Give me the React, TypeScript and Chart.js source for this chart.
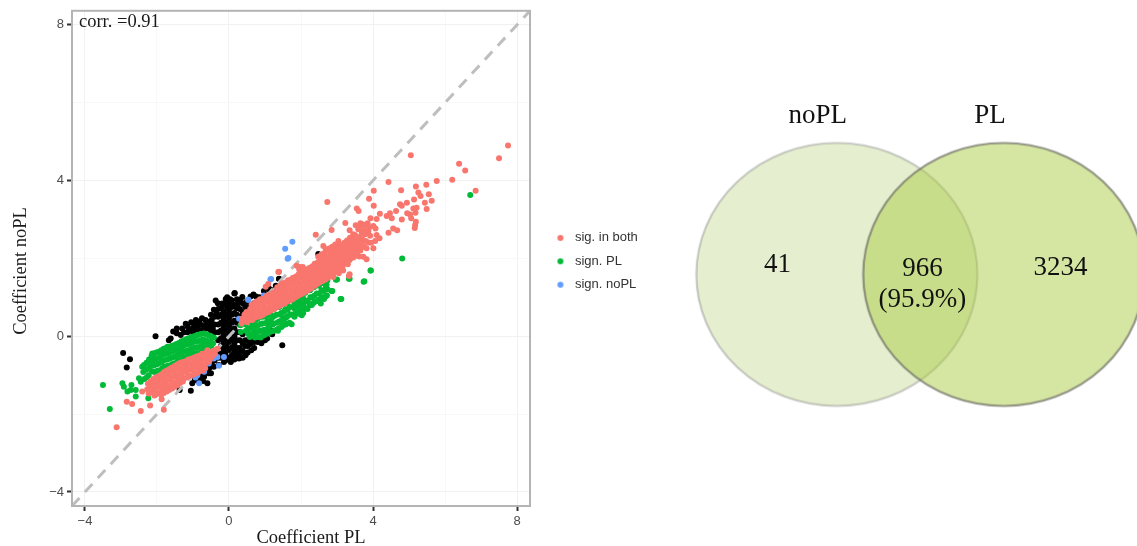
import React, { useEffect, useRef } from "react";
import { Chart, registerables } from "chart.js";

Chart.register(...registerables);

type P = [number, number];

const sigBothSparse: P[] = [
  [7.75,4.9],[7.5,4.57],[6.39,4.43],[6.56,4.26],[5.05,4.65],[6.2,4.02],[5.77,3.99],[4.43,3.96],[5.19,3.85],[5.48,3.89],
  [6.85,3.74],[4.78,3.75],[4.02,3.74],[5.26,3.69],[5.55,3.65],[5.32,3.6],[5.14,3.51],[3.89,3.53],[2.73,3.45],[5.63,3.48],
  [5.44,3.43],[4.94,3.43],[4.75,3.39],[4.02,3.35],[4.8,3.35],[5.21,3.3],[5.12,3.28],[3.55,3.28],[3.6,3.22],[5.49,3.27],
  [4.95,3.16],[5.18,3.17],[4.19,3.15],[4.64,3.22],[4.47,3.16],[5.03,3.13],[4.38,3.09],[4.52,3.03],[4.8,3.0],[5.06,3.03],
  [3.93,3.03],[4.1,3.01],[5.19,2.94],[5.17,2.86],[5.16,2.78],[3.23,2.91],[3.73,2.87],[4.01,2.83],[4.07,2.77],[2.85,2.73],
  [3.35,2.72],[4.56,2.77],[4.67,2.72],[4.43,2.66],[2.41,2.61],[3.59,2.75],[3.87,2.7],[3.69,2.66],[3.78,2.62],[3.92,2.58],
  [4.18,2.52],[4.06,2.45],[3.87,2.41],[4.01,2.26],[3.82,2.26],[3.64,2.34],[3.04,2.45],[3.22,2.41],[3.36,2.53],[2.99,2.32],
  [2.62,2.32],[2.69,2.24],[2.85,2.19],[3.08,2.19],[3.27,2.28],[3.45,2.19],[3.73,2.04],[3.82,1.98],[2.48,2.04],[3.08,2.06],
  [1.37,1.65],[1.88,1.81],[1.97,1.78],[1.39,1.66],[1.09,1.34],[1.02,1.27],[3.35,1.59],[3.17,1.69],[3.33,1.55],
  [-2.69,-1.74],[-2.84,-1.68],[-2.19,-1.78],[-2.45,-1.92],[-1.81,-1.89],[-1.87,-1.62],[-3.12,-2.34],[-2.41,-1.42],[-2.06,-1.51],
  [3.55,2.45],[3.62,2.55],[3.7,2.5],[3.5,2.6],[3.45,2.62],[3.6,2.42],[3.68,2.38],[3.58,2.28],[3.65,2.2],[3.75,2.3],[3.8,2.45],[3.95,2.4],
  [3.72,2.72],[3.8,2.78],[3.9,2.8],[3.62,2.78],[3.52,2.85],[3.65,2.9],[3.85,2.9],[4.1,2.6],[3.55,2.12],[3.62,2.05],[3.45,2.02],[3.3,1.85],[3.15,1.78],[3.05,1.62],[2.9,1.52],
];

const sigBothUpperBand: P[] = [
  [0.35,0.33],[0.37,0.45],[0.5,0.36],[0.51,0.5],[0.49,0.62],[0.65,0.42],[0.66,0.55],[0.64,0.68],[0.63,0.8],[0.8,0.5],[0.81,0.63],[0.79,0.76],[0.78,0.9],
  [0.95,0.55],[0.96,0.68],[0.94,0.82],[0.93,0.96],[1.1,0.62],[1.11,0.76],[1.09,0.9],[1.08,1.04],[1.25,0.7],[1.26,0.84],[1.24,0.98],[1.23,1.12],
  [1.4,0.78],[1.41,0.92],[1.39,1.06],[1.38,1.2],[1.42,1.3],[1.55,0.84],[1.56,0.98],[1.54,1.12],[1.53,1.26],[1.57,1.38],
  [1.7,0.92],[1.71,1.06],[1.69,1.2],[1.68,1.34],[1.72,1.46],[1.85,1.0],[1.86,1.14],[1.84,1.28],[1.83,1.42],[1.87,1.54],
  [2.0,1.08],[2.01,1.22],[1.99,1.36],[1.98,1.5],[2.02,1.62],[1.95,1.72],[2.15,1.16],[2.16,1.3],[2.14,1.44],[2.13,1.58],[2.17,1.72],
  [2.3,1.24],[2.31,1.38],[2.29,1.52],[2.28,1.66],[2.32,1.8],[2.45,1.34],[2.46,1.48],[2.44,1.62],[2.43,1.76],[2.47,1.9],
  [2.6,1.42],[2.61,1.56],[2.59,1.7],[2.58,1.84],[2.62,1.98],[2.57,2.1],[2.75,1.5],[2.76,1.64],[2.74,1.78],[2.73,1.92],[2.77,2.06],[2.72,2.2],
  [2.9,1.62],[2.91,1.76],[2.89,1.9],[2.88,2.04],[2.92,2.18],[2.87,2.3],[3.05,1.72],[3.06,1.86],[3.04,2.0],[3.03,2.14],[3.07,2.3],
  [3.2,1.86],[3.21,2.0],[3.19,2.14],[3.18,2.28],[3.22,2.4],[3.35,1.96],[3.36,2.1],[3.34,2.24],[3.33,2.38],[3.37,2.5],
  [3.5,2.06],[3.51,2.2],[3.49,2.34],[3.48,2.48],
  [0.42,0.42],[0.43,0.55],[0.58,0.42],[0.57,0.56],[0.59,0.7],[0.72,0.48],[0.71,0.62],[0.73,0.76],[0.72,0.86],[0.88,0.52],[0.87,0.66],[0.89,0.8],[0.86,0.95],
  [1.02,0.6],[1.03,0.74],[1.01,0.88],[1.02,1.02],[1.18,0.67],[1.17,0.8],[1.19,0.95],[1.16,1.08],[1.32,0.74],[1.33,0.88],[1.31,1.02],[1.32,1.16],[1.34,1.26],
  [1.48,0.82],[1.47,0.96],[1.49,1.1],[1.46,1.24],[1.48,1.36],[1.62,0.9],[1.63,1.04],[1.61,1.18],[1.62,1.32],[1.64,1.44],
  [1.78,0.96],[1.77,1.1],[1.79,1.24],[1.76,1.38],[1.78,1.5],[1.92,1.04],[1.93,1.18],[1.91,1.32],[1.92,1.46],[1.94,1.6],
  [2.08,1.12],[2.07,1.26],[2.09,1.4],[2.06,1.54],[2.08,1.68],[2.05,1.78],[2.22,1.2],[2.23,1.34],[2.21,1.48],[2.22,1.62],[2.24,1.76],
  [2.38,1.3],[2.37,1.44],[2.39,1.58],[2.36,1.72],[2.38,1.86],[2.52,1.38],[2.53,1.52],[2.51,1.66],[2.52,1.8],[2.54,1.94],[2.5,2.05],
  [2.68,1.46],[2.67,1.6],[2.69,1.74],[2.66,1.88],[2.68,2.02],[2.65,2.14],[2.82,1.56],[2.83,1.7],[2.81,1.84],[2.82,1.98],[2.84,2.12],[2.8,2.26],
  [2.98,1.68],[2.97,1.82],[2.99,1.96],[2.96,2.1],[2.98,2.24],[2.95,2.36],[3.12,1.8],[3.13,1.94],[3.11,2.08],[3.12,2.22],[3.14,2.36],
  [3.28,1.92],[3.27,2.06],[3.29,2.2],[3.26,2.34],[3.28,2.46],[3.42,2.02],[3.43,2.16],[3.41,2.3],[3.42,2.44],
];

const sigBothLowerBand: P[] = [
  [-0.32,-0.32],[-0.45,-0.38],[-0.47,-0.52],[-0.6,-0.36],[-0.62,-0.5],[-0.58,-0.66],[-0.75,-0.45],[-0.77,-0.6],[-0.73,-0.75],[-0.72,-0.88],
  [-0.9,-0.52],[-0.92,-0.66],[-0.88,-0.8],[-0.87,-0.94],[-1.05,-0.58],[-1.07,-0.72],[-1.03,-0.86],[-1.02,-1.0],[-1.2,-0.64],[-1.22,-0.78],[-1.18,-0.92],[-1.17,-1.06],
  [-1.35,-0.68],[-1.37,-0.82],[-1.33,-0.96],[-1.32,-1.1],[-1.36,-1.2],[-1.5,-0.76],[-1.52,-0.9],[-1.48,-1.04],[-1.47,-1.18],[-1.51,-1.3],
  [-1.65,-0.84],[-1.67,-0.98],[-1.63,-1.12],[-1.62,-1.26],[-1.66,-1.38],[-1.8,-0.92],[-1.82,-1.06],[-1.78,-1.2],[-1.77,-1.34],[-1.81,-1.46],
  [-1.95,-1.02],[-1.97,-1.16],[-1.93,-1.3],[-1.92,-1.44],[-2.1,-1.1],[-2.12,-1.24],[-2.08,-1.38],[-2.07,-1.52],[-2.25,-1.22],[-2.27,-1.36],[-2.23,-1.47],
  [-0.38,-0.35],[-0.39,-0.45],[-0.53,-0.42],[-0.52,-0.55],[-0.54,-0.62],[-0.68,-0.44],[-0.67,-0.58],[-0.69,-0.72],[-0.66,-0.82],[-0.83,-0.5],[-0.82,-0.64],[-0.84,-0.78],[-0.81,-0.9],
  [-0.98,-0.55],[-0.97,-0.69],[-0.99,-0.83],[-0.96,-0.97],[-1.13,-0.6],[-1.12,-0.74],[-1.14,-0.88],[-1.11,-1.02],[-1.28,-0.66],[-1.27,-0.8],[-1.29,-0.94],[-1.26,-1.08],[-1.28,-1.16],
  [-1.43,-0.72],[-1.42,-0.86],[-1.44,-1.0],[-1.41,-1.14],[-1.43,-1.26],[-1.58,-0.8],[-1.57,-0.94],[-1.59,-1.08],[-1.56,-1.22],[-1.58,-1.34],
  [-1.73,-0.88],[-1.72,-1.02],[-1.74,-1.16],[-1.71,-1.3],[-1.73,-1.42],[-1.88,-0.98],[-1.87,-1.12],[-1.89,-1.26],[-1.86,-1.4],[-1.88,-1.5],
  [-2.03,-1.06],[-2.02,-1.2],[-2.04,-1.34],[-2.01,-1.48],[-2.18,-1.16],[-2.17,-1.3],[-2.19,-1.44],
];

const signPLLowerBand: P[] = [
  [-0.42,-0.03],[-0.44,-0.18],[-0.55,0.02],[-0.57,-0.14],[-0.56,-0.28],[-0.7,0.07],[-0.72,-0.08],[-0.71,-0.22],[-0.69,-0.36],[-0.85,0.04],[-0.84,-0.12],[-0.86,-0.28],[-0.83,-0.44],
  [-0.97,0.0],[-0.99,-0.15],[-0.98,-0.3],[-0.96,-0.45],[-1.11,-0.05],[-1.12,-0.2],[-1.1,-0.35],[-1.13,-0.5],[-1.25,-0.1],[-1.27,-0.25],[-1.26,-0.4],[-1.24,-0.55],
  [-1.39,-0.17],[-1.38,-0.32],[-1.4,-0.47],[-1.41,-0.62],[-1.53,-0.23],[-1.55,-0.38],[-1.54,-0.53],[-1.52,-0.7],[-1.67,-0.28],[-1.68,-0.43],[-1.66,-0.58],[-1.69,-0.75],
  [-1.81,-0.32],[-1.83,-0.47],[-1.82,-0.62],[-1.8,-0.78],[-1.95,-0.4],[-1.94,-0.55],[-1.96,-0.7],[-1.97,-0.88],[-2.08,-0.44],[-2.1,-0.6],[-2.09,-0.75],[-2.07,-0.92],
  [-2.22,-0.6],[-2.21,-0.8],[-2.23,-1.0],[-2.36,-0.74],[-2.38,-0.92],[-2.35,-1.1],
  [-0.5,0.0],[-0.51,-0.13],[-0.49,-0.25],[-0.63,0.05],[-0.64,-0.1],[-0.62,-0.25],[-0.61,-0.35],[-0.78,0.06],[-0.79,-0.1],[-0.77,-0.25],[-0.76,-0.4],
  [-0.91,0.02],[-0.92,-0.13],[-0.9,-0.28],[-0.89,-0.43],[-1.04,-0.02],[-1.05,-0.17],[-1.03,-0.32],[-1.02,-0.47],[-1.18,-0.07],[-1.19,-0.22],[-1.17,-0.37],[-1.16,-0.52],
  [-1.32,-0.13],[-1.33,-0.28],[-1.31,-0.43],[-1.3,-0.58],[-1.46,-0.2],[-1.47,-0.35],[-1.45,-0.5],[-1.44,-0.66],[-1.6,-0.25],[-1.61,-0.4],[-1.59,-0.55],[-1.58,-0.72],
  [-1.74,-0.3],[-1.75,-0.45],[-1.73,-0.6],[-1.72,-0.77],[-1.88,-0.36],[-1.89,-0.51],[-1.87,-0.66],[-1.86,-0.83],[-2.02,-0.42],[-2.03,-0.57],[-2.01,-0.72],[-2.0,-0.9],
  [-2.15,-0.5],[-2.16,-0.7],[-2.14,-0.9],[-2.29,-0.68],[-2.3,-0.86],[-2.28,-1.05],
];

const signPLUpperBand: P[] = [
  [0.32,0.28],[0.33,0.11],[0.46,0.3],[0.47,0.14],[0.6,0.4],[0.61,0.22],[0.59,0.06],[0.58,-0.02],[0.74,0.42],[0.75,0.26],[0.73,0.1],[0.72,-0.03],[0.88,0.5],[0.89,0.32],[0.87,0.15],[0.88,-0.03],
  [1.02,0.5],[1.03,0.34],[1.01,0.17],[1.0,0.04],[1.14,0.6],[1.15,0.42],[1.13,0.27],[1.12,0.1],[1.25,0.7],[1.26,0.52],[1.24,0.33],[1.27,0.15],
  [1.4,0.75],[1.41,0.56],[1.39,0.38],[1.38,0.2],[1.52,0.82],[1.53,0.63],[1.51,0.46],[1.5,0.28],[1.62,0.88],[1.63,0.68],[1.61,0.5],[1.6,0.32],
  [1.75,0.95],[1.76,0.75],[1.74,0.56],[1.88,1.0],[1.89,0.82],[1.87,0.62],[1.99,1.05],[2.0,0.86],[1.98,0.66],[2.02,0.54],
  [2.12,1.12],[2.13,0.92],[2.11,0.72],[2.25,1.18],[2.26,1.0],[2.24,0.8],[2.36,1.26],[2.37,1.04],[2.35,0.86],[2.5,1.3],[2.51,1.1],[2.49,0.94],[2.62,1.36],[2.63,1.16],[2.61,1.0],[2.73,1.43],[2.74,1.2],[2.72,1.05],
  [0.53,0.2],[0.54,0.06],[0.52,0.36],[0.67,0.05],[0.68,0.18],[0.66,0.32],[0.65,0.5],[0.81,-0.02],[0.82,0.12],[0.8,0.28],[0.79,0.45],
  [0.95,0.02],[0.96,0.16],[0.94,0.33],[0.93,0.5],[1.08,0.07],[1.09,0.22],[1.07,0.38],[1.06,0.55],[1.2,0.13],[1.21,0.3],[1.19,0.47],[1.33,0.17],[1.34,0.35],[1.32,0.55],
  [1.46,0.24],[1.47,0.42],[1.45,0.6],[1.57,0.3],[1.58,0.48],[1.56,0.68],[1.68,0.35],[1.69,0.55],[1.67,0.75],[1.82,0.5],[1.83,0.7],[1.81,0.88],[1.94,0.58],[1.95,0.78],[1.93,0.95],
  [2.06,0.6],[2.07,0.8],[2.05,1.0],[2.18,0.7],[2.19,0.9],[2.3,0.8],[2.31,1.0],[2.43,0.9],[2.44,1.1],[2.56,0.98],[2.57,1.18],[2.68,1.02],[2.69,1.25],
];

const signPLSparse: P[] = [
  [-3.5,-1.25],[-3.31,-1.87],[-2.96,-1.21],[-2.92,-1.3],[-2.71,-1.25],[-2.82,-1.42],[-2.59,-1.55],[-2.5,-1.08],[-2.45,-1.17],[-2.24,-1.59],[-2.59,-1.38],[-2.73,-1.38],[-2.41,-0.78],[-1.71,-0.27],[-2.13,-0.44],
  [1.74,0.31],[1.36,0.14],[1.53,0.45],[2.04,0.61],[3.12,0.96],[3.76,1.41],[3.94,1.69],[3.35,1.48],[2.87,1.16],[2.55,0.84],[2.5,0.94],[3.0,1.46],[2.64,0.96],
  [6.7,3.63],[4.81,2.0],[3.93,1.69],[3.74,1.4],[3.33,1.48],[2.85,1.16],[3.1,0.96],[2.97,1.45],[2.71,1.32],[2.57,0.96],
];

const signNoPL: P[] = [
  [1.65,2.01],[1.17,1.47],[0.54,0.94],[0.28,0.45],[0.4,0.43],[0.46,0.58],[0.97,1.05],[-0.32,-0.53],[-0.14,-0.53],[-0.42,-0.57],[-0.28,-0.76],
  [-0.56,-0.7],[-0.69,-0.91],[-0.88,-1.0],[-0.93,-1.06],[-0.83,-1.21],[1.76,2.43],[1.56,2.25],[1.63,1.99],[1.15,1.46],[0.53,0.94],
];

const notSigOutline: P[] = [
  [-2.04,0.0],[-2.94,-0.43],[-2.75,-0.59],[-2.84,-0.8],[-1.67,-0.1],[-1.62,-0.06],[-1.34,0.03],[-1.11,0.15],[-0.93,0.31],[-0.83,0.28],[-0.6,0.37],
  [-0.37,0.92],[-0.31,0.85],[-0.19,0.84],[-0.09,0.96],[0.03,0.95],[0.16,1.11],[0.31,0.94],[0.37,1.01],[0.68,1.07],[0.97,1.16],[1.39,1.47],[2.48,2.11],
  [1.48,-0.23],[0.88,-0.06],[0.62,-0.36],[0.46,-0.49],[0.28,-0.57],[0.05,-0.66],[-0.14,-0.66],[-0.28,-0.74],[-0.42,-0.78],[-0.56,-0.95],[-0.69,-1.04],[-0.6,-1.21],
  [-1.06,-1.4],[-1.37,-1.38],[-1.02,-1.21],[-0.88,-1.13],[1.06,-0.06],[1.16,0.15],[1.09,1.25],[1.46,1.31],[1.14,1.17],[0.15,1.1],[-0.05,1.0],[0.6,1.02],[1.39,1.48],
];

const notSigBlob: P[] = [
  [-1.45,0.08],[-1.25,0.1],[-1.0,0.22],[-0.8,0.15],[-0.72,0.28],[-0.6,0.2],[-0.6,0.3],[-0.48,0.42],[-0.4,0.1],[-0.4,0.3],[-0.4,0.5],[-0.3,-0.1],[-0.3,0.1],[-0.3,0.3],[-0.3,0.5],[-0.3,0.7],
  [-0.15,-0.35],[-0.15,-0.15],[-0.15,0.05],[-0.15,0.25],[-0.15,0.45],[-0.15,0.65],[-0.15,0.8],
  [0,-0.55],[0,-0.35],[0,-0.15],[0,0.05],[0,0.25],[0,0.45],[0,0.65],[0,0.85],
  [0.15,-0.6],[0.15,-0.4],[0.15,-0.2],[0.15,0],[0.15,0.2],[0.15,0.4],[0.15,0.6],[0.15,0.8],
  [0.3,-0.5],[0.3,-0.3],[0.3,-0.1],[0.3,0.1],[0.3,0.3],[0.3,0.5],[0.3,0.7],[0.3,0.9],
  [0.45,-0.45],[0.45,-0.25],[0.45,-0.1],[0.45,0.6],[0.45,0.75],[0.6,-0.2],[0.6,-0.1],[0.6,0.75],[0.8,-0.15],[0.8,-0.05],[0.8,0.9],[1.0,-0.1],[1.0,0.0],[1.2,0.05],
  [-0.1,-0.45],[0.08,-0.48],[0.24,-0.42],[-0.22,-0.25],[-0.08,0.15],[0.08,0.35],[0.22,0.55],[-0.22,0.55],[-0.05,0.75],[0.24,0.82],[0.5,0.9],[0.75,1.02],
  [-0.22,-0.45],[-0.22,-0.05],[-0.22,0.15],[-0.22,0.35],[-0.22,0.72],[-0.08,-0.25],[-0.08,-0.05],[-0.08,0.35],[-0.08,0.55],[-0.08,0.88],[0.08,-0.6],[0.08,-0.28],[0.08,-0.08],[0.08,0.15],[0.08,0.55],[0.08,0.75],[0.08,0.92],
  [0.22,-0.52],[0.22,-0.3],[0.22,-0.1],[0.22,0.1],[0.22,0.35],[0.22,0.72],[0.22,0.95],[0.38,-0.55],[0.38,-0.38],[0.38,-0.18],[0.38,0.05],[0.38,0.62],[0.38,0.85],
  [0.52,-0.42],[0.52,-0.25],[0.52,-0.1],[0.52,0.75],[0.7,-0.3],[0.7,-0.15],[0.7,0.85],[0.9,-0.18],[0.85,1.0],[1.0,1.05],[1.15,1.2],[1.3,1.3],
  [-1.15,0.1],[-1.0,0.1],[-0.9,0.18],[-0.72,0.15],[-0.82,0.38],[-0.65,0.42],[-0.5,0.15],[-0.5,0.3],[-0.5,0.55],[-0.42,0.68],[-0.35,0.58],[-0.45,0.2],
  [-0.35,-0.45],[-0.4,-0.62],[-0.28,-0.55],[-0.48,-0.7],[-0.55,-0.82],[-0.65,-0.9],[-0.75,-0.98],[-0.82,-1.08],[-0.95,-1.12],[-0.72,-1.15],[-0.5,-0.95],[-0.2,-0.55],[-0.1,-0.62],
  [-1.3,0.2],[-1.15,0.25],[-1.2,0.32],[-1.05,0.36],[-0.92,0.42],[-0.75,0.46],[-1.45,0.2],[-1.55,0.12],
];

const sigBoth = [...sigBothSparse, ...sigBothUpperBand, ...sigBothLowerBand];
const signPL = [...signPLSparse, ...signPLUpperBand, ...signPLLowerBand];
const notSig = [...notSigOutline, ...notSigBlob];

const diagonalX = [-4.36, 8.36];
const diagonalY = [-4.36, 8.36];

const axisTickStep = 2;
const legendLabels = ["sig. in both", "sign. PL", "sign. noPL"];
const legendColors = ["#f8766d", "#00ba38", "#619cff"];

const vennSets = ["noPL", "PL"];
const vennX = [175.5, 346];
const vennY = [274.5, 274.5];
const vennCountLabels = ["41", "966", "(95.9%)", "3234"];
const vennCountX = [115, 263, 263, 404];
const vennCountY = [265, 269, 300, 268];
const vennSetLabelX = [156, 332];
const vennSetLabelY = [113, 113];

const SERIF = "'Liberation Serif', serif";
const SANS = "'Liberation Sans', sans-serif";

function toPoints(list: P[]) {
  return list.map(([x, y]) => ({ x, y }));
}

function dotImage(color: string) {
  const c = document.createElement("canvas");
  c.width = 16;
  c.height = 12;
  const g = c.getContext("2d")!;
  g.fillStyle = color;
  g.beginPath();
  g.arc(8, 6, 3, 0, Math.PI * 2);
  g.fill();
  return c;
}

function ellipseImage(fill: string, stroke: string) {
  const c = document.createElement("canvas");
  c.width = 286;
  c.height = 268;
  const g = c.getContext("2d")!;
  g.beginPath();
  g.ellipse(143, 134, 140.5, 131.5, 0, 0, Math.PI * 2);
  g.fillStyle = fill;
  g.fill();
  g.lineWidth = 2.2;
  g.strokeStyle = stroke;
  g.stroke();
  return c;
}

const majorTick = (v: number) => Math.abs(v % 4) < 1e-6;

function axisOptions(afterFit: (s: any) => void) {
  return {
    type: "linear" as const,
    min: -4.36,
    max: 8.36,
    afterFit,
    border: { display: false },
    grid: {
      color: (c: any) => (majorTick(c.tick.value) ? "#f1f1f1" : "#f8f8f8"),
      tickColor: (c: any) => (majorTick(c.tick.value) ? "#333333" : "rgba(0,0,0,0)"),
      tickLength: 5,
      tickWidth: 2,
      lineWidth: 1,
    },
    ticks: {
      stepSize: axisTickStep,
      includeBounds: false,
      autoSkip: false,
      maxRotation: 0,
      padding: 3,
      color: "#4d4d4d",
      font: { family: SANS, size: 13 },
      callback: (v: any) => (majorTick(Number(v)) ? String(v).replace("-", "\u2212") : ""),
    },
  };
}

export default function App() {
  const leftRef = useRef<HTMLCanvasElement>(null);
  const rightRef = useRef<HTMLCanvasElement>(null);

  useEffect(() => {
    const panelPlugin = {
      id: "panelAndText",
      afterLayout(chart: any) {
        const l = chart.legend;
        const w = l.right - l.left;
        const h = l.bottom - l.top;
        l.left = 542;
        l.right = 542 + w + 20;
        l.top = 221;
        l.bottom = 221 + h + 20;
      },
      afterDatasetsDraw(chart: any) {
        const { ctx, chartArea: a } = chart;
        ctx.save();
        ctx.strokeStyle = "#b4b4b4";
        ctx.lineWidth = 2;
        ctx.strokeRect(a.left, a.top, a.right - a.left, a.bottom - a.top);
        ctx.fillStyle = "#1a1a1a";
        ctx.font = `18.5px ${SERIF}`;
        ctx.textBaseline = "alphabetic";
        ctx.textAlign = "left";
        ctx.fillText("corr. =0.91", 79, 27);
        ctx.textAlign = "center";
        ctx.fillText("Coefficient PL", 311, 543);
        ctx.translate(26, 271);
        ctx.rotate(-Math.PI / 2);
        ctx.fillText("Coefficient noPL", 0, 0);
        ctx.restore();
      },
    };

    const pointDs = (label: string, list: P[], color: string, order: number) => ({
      type: "scatter" as const,
      label,
      data: toPoints(list),
      backgroundColor: color,
      borderWidth: 0,
      pointRadius: 3,
      pointHoverRadius: 3,
      order,
    });

    const left = new Chart(leftRef.current!, {
      type: "scatter",
      data: {
        datasets: [
          pointDs(legendLabels[0], sigBoth, legendColors[0], 0),
          pointDs(legendLabels[1], signPL, legendColors[1], 2),
          pointDs(legendLabels[2], signNoPL, legendColors[2], 1),
          {
            type: "line" as const,
            label: "y = x",
            data: diagonalX.map((x, i) => ({ x, y: diagonalY[i] })),
            borderColor: "#bebebe",
            borderWidth: 3,
            borderDash: [11, 8],
            pointRadius: 0,
            order: 3,
          },
          pointDs("not significant", notSig, "#000000", 4),
        ] as any,
      },
      options: {
        responsive: false,
        animation: false,
        layout: { padding: { left: 0, top: 9, right: 130, bottom: 0 } },
        scales: {
          x: axisOptions((s) => { s.height = 40; }),
          y: axisOptions((s) => { s.width = 72; }),
        } as any,
        plugins: {
          tooltip: { enabled: false },
          legend: {
            display: true,
            position: "chartArea" as any,
            align: "start",
            labels: {
              usePointStyle: true,
              pointStyleWidth: 16,
              boxHeight: 12,
              padding: 10.4,
              color: "#333333",
              font: { family: SANS, size: 13 },
              generateLabels: () =>
                legendLabels.map((text, i) => ({
                  text,
                  pointStyle: dotImage(legendColors[i]) as any,
                  fillStyle: legendColors[i],
                  strokeStyle: legendColors[i],
                  lineWidth: 0,
                  hidden: false,
                  datasetIndex: i,
                  fontColor: "#333333",
                })),
            },
          },
        },
      },
      plugins: [panelPlugin as any],
    });

    const vennPlugin = {
      id: "vennText",
      afterDatasetsDraw(chart: any) {
        const { ctx, scales } = chart;
        ctx.save();
        ctx.fillStyle = "#111111";
        ctx.textAlign = "center";
        ctx.textBaseline = "middle";
        ctx.font = `27px ${SERIF}`;
        vennSets.forEach((t, i) => {
          ctx.fillText(t, scales.x.getPixelForValue(vennSetLabelX[i]), scales.y.getPixelForValue(vennSetLabelY[i]));
        });
        vennCountLabels.forEach((t, i) => {
          ctx.fillText(t, scales.x.getPixelForValue(vennCountX[i]), scales.y.getPixelForValue(vennCountY[i]));
        });
        ctx.restore();
      },
    };

    const right = new Chart(rightRef.current!, {
      type: "scatter",
      data: {
        datasets: [
          {
            label: vennSets[1],
            data: [{ x: vennX[1], y: vennY[1] }],
            pointStyle: ellipseImage("rgba(171,203,69,0.5)", "rgba(110,110,100,0.7)") as any,
            order: 0,
            clip: false,
          },
          {
            label: vennSets[0],
            data: [{ x: vennX[0], y: vennY[0] }],
            pointStyle: ellipseImage("rgba(168,202,95,0.3)", "rgba(130,130,130,0.4)") as any,
            order: 1,
            clip: false,
          },
        ] as any,
      },
      options: {
        responsive: false,
        animation: false,
        layout: { padding: 0 },
        scales: {
          x: { type: "linear", display: false, min: 0, max: 477 },
          y: { type: "linear", display: false, min: 0, max: 546, reverse: true },
        },
        plugins: { legend: { display: false }, tooltip: { enabled: false } },
      },
      plugins: [vennPlugin as any],
    });

    return () => {
      left.destroy();
      right.destroy();
    };
  }, []);

  return (
    <div style={{ position: "fixed", left: 0, top: 0, width: 1137, height: 546, background: "#fff", overflow: "hidden" }}>
      <canvas ref={leftRef} width={660} height={546} style={{ position: "absolute", left: 0, top: 0 }} />
      <canvas ref={rightRef} width={477} height={546} style={{ position: "absolute", left: 660, top: 0 }} />
    </div>
  );
}
